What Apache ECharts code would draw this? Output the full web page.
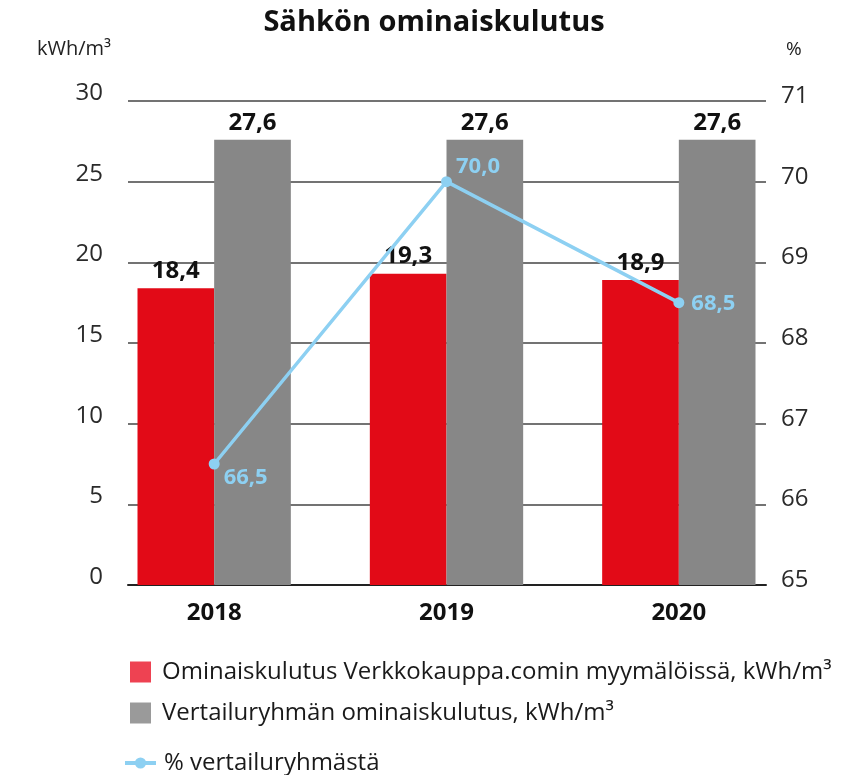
<!DOCTYPE html>
<html>
<head>
<meta charset="utf-8">
<script src="https://cdn.jsdelivr.net/npm/echarts@6/dist/echarts.min.js"></script>
<style>
  html, body { margin: 0; padding: 0; background: #fff; }
  #main { width: 868px; height: 775px; }
</style>
</head>
<body>
<div id="main"></div>
<script>
var years = ['2018', '2019', '2020']
var omaKulutus = [18.4, 19.3, 18.9]
var vertailuKulutus = [27.6, 27.6, 27.6]
var prosentti = [66.5, 70.0, 68.5]
var leftTicks = [0, 30, 5]      // min, max, step
var rightTicks = [65, 71, 1]

var nimiOma = 'Ominaiskulutus Verkkokauppa.comin myymälöissä, kWh/m³'
var nimiVert = 'Vertailuryhmän ominaiskulutus, kWh/m³'
var nimiPros = '% vertailuryhmästä'

var fontti = '"Open Sans", "Noto Sans", sans-serif'
var sininen = '#8dd0f2'
// label offsets for the line points
var lineOffsets = [[0, 14], [0, -15], [3, 1]]

function pilkku(v) { return v.toFixed(1).replace('.', ',') }

var myChart = echarts.init(document.getElementById('main'))

var lineData = prosentti.map(function (v, i) {
  return { value: v, label: { offset: lineOffsets[i] } }
})

myChart.setOption({
  textStyle: { fontFamily: fontti },
  title: {
    text: 'Sähkön ominaiskulutus',
    left: 'center', top: 3,
    textStyle: { fontSize: 29, fontWeight: 'bold', color: '#111', fontFamily: fontti }
  },
  legend: [
    {
      orient: 'vertical',
      left: 125, top: 655,
      itemWidth: 21, itemHeight: 21, itemGap: 17,
      textStyle: { fontSize: 24, lineHeight: 24, color: '#1a1a1a', fontFamily: fontti, padding: [0, 0, 0, 6] },
      data: [
        { name: nimiOma, icon: 'rect', itemStyle: { color: '#ee4252' } },
        { name: nimiVert, icon: 'rect', itemStyle: { color: '#9a9a9a' } }
      ]
    },
    {
      orient: 'vertical',
      left: 118, top: 746,
      itemWidth: 31, itemHeight: 14,
      textStyle: { fontSize: 24, lineHeight: 24, color: '#1a1a1a', fontFamily: fontti, padding: [0, 0, 0, 3] },
      data: [{ name: nimiPros, lineStyle: { width: 4, color: sininen }, itemStyle: { color: sininen } }]
    }
  ],
  grid: [
    { left: 128, right: 102, top: 101, bottom: 190 },
    { left: 98, right: 73, top: 101, bottom: 190 }
  ],
  xAxis: [
    {
      type: 'category', gridIndex: 0, data: years,
      axisLine: { show: true, lineStyle: { color: '#222', width: 2 } },
      axisTick: { show: false }, axisLabel: { show: false }
    },
    {
      type: 'category', gridIndex: 1, data: years,
      axisLine: { show: false }, axisTick: { show: false },
      axisLabel: { fontSize: 24, fontWeight: 'bold', color: '#111', margin: 16 }
    }
  ],
  yAxis: [
    {
      type: 'value', gridIndex: 0, position: 'left',
      min: leftTicks[0], max: leftTicks[1], interval: leftTicks[2],
      name: 'kWh/m³', nameLocation: 'end', nameGap: 42,
      nameTextStyle: { fontSize: 20, color: '#222', align: 'right', padding: [0, 17, 0, 0] },
      axisLine: { show: false }, axisTick: { show: false },
      axisLabel: { fontSize: 24, color: '#2a2a2a', margin: 25, verticalAlign: 'bottom', lineHeight: 16 },
      splitLine: { lineStyle: { color: '#444', width: 1.5 } }
    },
    {
      type: 'value', gridIndex: 0, position: 'right',
      min: rightTicks[0], max: rightTicks[1], interval: rightTicks[2],
      name: '%', nameLocation: 'end', nameGap: 42,
      nameTextStyle: { fontSize: 19, color: '#222', align: 'left', padding: [0, 0, 0, 20] },
      axisLine: { show: false }, axisTick: { show: false },
      axisLabel: { fontSize: 24, color: '#2a2a2a', margin: 15, verticalAlign: 'bottom', lineHeight: 10 },
      splitLine: { show: false }
    },
    {
      type: 'value', gridIndex: 1, show: false,
      min: leftTicks[0], max: leftTicks[1], interval: leftTicks[2]
    },
    {
      type: 'value', gridIndex: 1, show: false,
      min: rightTicks[0], max: rightTicks[1], interval: rightTicks[2]
    }
  ],
  series: [
    {
      name: nimiOma, type: 'bar', xAxisIndex: 1, yAxisIndex: 2,
      data: omaKulutus,
      barGap: '0%', barCategoryGap: '34%',
      itemStyle: { color: '#e20a17' },
      label: {
        show: true, position: 'top', distance: 5,
        fontSize: 24, fontWeight: 'bold', color: '#111',
        formatter: function (p) { return pilkku(p.value) }
      }
    },
    {
      name: nimiVert, type: 'bar', xAxisIndex: 1, yAxisIndex: 2,
      data: vertailuKulutus,
      itemStyle: { color: '#878787' },
      label: {
        show: true, position: 'top', distance: 5,
        fontSize: 24, fontWeight: 'bold', color: '#111',
        formatter: function (p) { return pilkku(p.value) }
      }
    },
    {
      name: nimiPros, type: 'line', xAxisIndex: 1, yAxisIndex: 3,
      data: lineData,
      z: 5,
      symbol: 'circle', symbolSize: 11,
      lineStyle: { color: sininen, width: 3.5 },
      itemStyle: { color: sininen },
      label: {
        show: true, position: 'right', distance: 4,
        fontSize: 22, fontWeight: 'bold', color: sininen,
        formatter: function (p) { return pilkku(p.value) }
      }
    }
  ]
})
</script>
</body>
</html>
